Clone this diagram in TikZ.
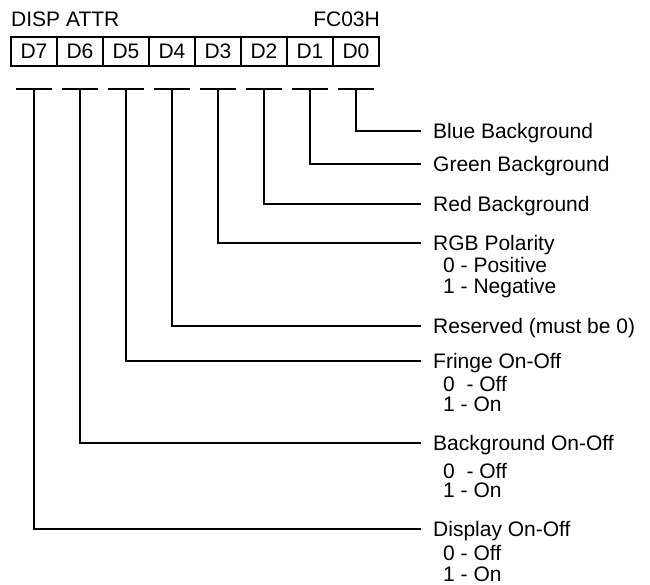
\documentclass[tikz,border=0pt]{standalone}
\usepackage{fontspec}
\setmainfont{Liberation Sans}
\begin{document}
\begin{tikzpicture}[x=1pt,y=-1pt,
  every node/.style={font=\fontsize{21}{22}\selectfont, inner sep=0pt},
  bitcell/.style={draw, line width=1.3pt, minimum width=46pt, minimum height=29pt, anchor=center},
  wire/.style={line width=1.7pt},
  lbl/.style={anchor=base west},
  sublbl/.style={anchor=base west}]
\useasboundingbox (0,0) rectangle (650,585);
\fill[white] (0,0) rectangle (650,585);
% title
\node[anchor=base west] (title) at (11,27) {DISP ATTR};
\node[anchor=base east] (addr) at (380,27) {FC03H};
% bit cells
\foreach \i in {0,...,7} {
  \node[bitcell] (d\i) at ({34+46*(7-\i)},51.5) {D\i};
  \coordinate (t\i) at ({34+46*(7-\i)},89);
  \draw[wire] ([xshift=-18pt]t\i) -- ([xshift=18pt]t\i);
}
% line ends and labels
\foreach \i/\yy in {0/131,1/164,2/204,3/243,4/326,5/361,6/443,7/529} {
  \coordinate (e\i) at (421,\yy);
  \draw[wire] (t\i) |- (e\i);
}
\node[lbl] (l0) at (433,138.5) {Blue Background};
\node[lbl] (l1) at (433,171.5) {Green Background};
\node[lbl] (l2) at (433,211.5) {Red Background};
\node[lbl] (l3) at (433,250.5) {RGB Polarity};
\node[sublbl] (l3a) at (443,272.5) {0 - Positive};
\node[sublbl] (l3b) at (443,293.5) {1 - Negative};
\node[lbl] (l4) at (433,333.5) {Reserved (must be 0)};
\node[lbl] (l5) at (433,368.5) {Fringe On-Off};
\node[sublbl] (l5a) at (443,391.5) {0\ \ - Off};
\node[sublbl] (l5b) at (443,411.5) {1 - On};
\node[lbl] (l6) at (433,450.5) {Background On-Off};
\node[sublbl] (l6a) at (443,478) {0\ \ - Off};
\node[sublbl] (l6b) at (443,497) {1 - On};
\node[lbl] (l7) at (433,536.5) {Display On-Off};
\node[sublbl] (l7a) at (443,560) {0 - Off};
\node[sublbl] (l7b) at (443,581) {1 - On};
\end{tikzpicture}
\end{document}
